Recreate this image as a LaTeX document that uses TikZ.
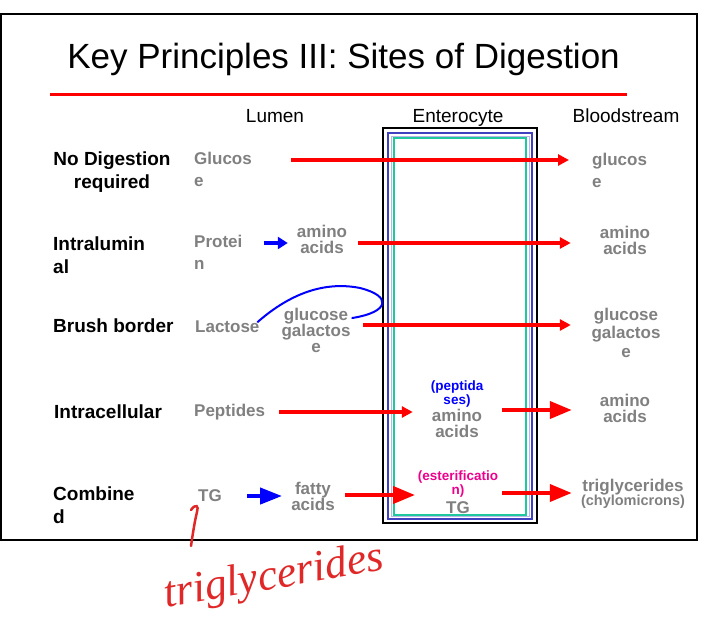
\documentclass[tikz,border=0pt]{standalone}
\usepackage{fontspec}
\setmainfont{Liberation Sans}
\newfontfamily\handfont{Liberation Serif}
\usetikzlibrary{arrows.meta}
\definecolor{nutgray}{HTML}{808080}
\definecolor{cellblue}{HTML}{4040C0}
\definecolor{celllav}{HTML}{B8B8E8}
\definecolor{cellteal}{HTML}{20C8A0}
\definecolor{inkred}{HTML}{E02828}
\tikzset{
  rowlabel/.style={font=\fontsize{19}{23}\selectfont\bfseries, align=left, inner sep=0pt, anchor=base west},
  colhead/.style={font=\fontsize{19}{23}\selectfont, inner sep=0pt, anchor=base},
  nutrient/.style={text=nutgray, font=\fontsize{17}{16}\selectfont\bfseries, align=center, inner sep=0pt, anchor=base},
  nutwide/.style={nutrient, font=\fontsize{17}{22}\selectfont\bfseries, align=left, anchor=base west},
  enzyme/.style={font=\fontsize{13.5}{12}\selectfont\bfseries, align=center, inner sep=0pt, anchor=base},
  flow/.style={draw=red, line width=4pt, -{Triangle[length=11pt,width=11pt]}},
  bigflow/.style={draw=red, line width=4pt, -{Triangle[length=22pt,width=17pt]}},
  split/.style={draw=blue, line width=4pt, -{Triangle[length=10pt,width=12pt]}},
  bigsplit/.style={draw=blue, line width=4pt, -{Triangle[length=22pt,width=16pt]}},
}
\begin{document}
\begin{tikzpicture}[x=1pt,y=-1pt]
\useasboundingbox (0,0) rectangle (727,637);
% slide frame and title
\draw[line width=1.5pt] (0.75,14) rectangle (697,540);
\node[font=\fontsize{35}{40}\selectfont, anchor=base, inner sep=0pt] (title) at (343.5,68) {Key Principles III: Sites of Digestion};
\draw[red, line width=3pt] (50,94) -- (627,94);

% column heads
\node[colhead] (lumen) at (275,122) {Lumen};
\node[colhead] (entero) at (458,122) {Enterocyte};
\node[colhead] (blood) at (626,122) {Bloodstream};

% enterocyte walls (behind the arrows)
\draw[line width=2.5pt] (383,128) rectangle (537,523);
\draw[cellblue, line width=2pt] (388,133) rectangle (532,519);
\draw[celllav, line width=1pt] (391,136) rectangle (529,516);
\draw[cellteal, line width=2pt] (393.5,138) rectangle (526,515);

% row labels (base = last line)
\node[rowlabel, align=center, anchor=base] (nodig) at (112,188) {No Digestion\\required};
\node[rowlabel] (intralum) at (53,273) {Intralumin\\al};
\node[rowlabel] (brush) at (53,332) {Brush border};
\node[rowlabel] (intracell) at (54,418) {Intracellular};
\node[rowlabel] (combined) at (53,523) {Combine\\d};

% lumen
\node[nutwide] (gluL) at (194,186) {Glucos\\e};
\node[nutwide] (proL) at (194,269) {Protei\\n};
\node[nutrient, anchor=base west] (lacL) at (195,332) {Lactose};
\node[nutrient, anchor=base west] (pepL) at (194,416) {Peptides};
\node[nutrient, anchor=base west] (tgL) at (198,501) {TG};
\node[nutrient] (aminoL) at (322,253) {amino\\acids};
\node[nutrient] (gluL2) at (316,352) {glucose\\galactos\\e};
\node[nutrient] (fattyL) at (313,510) {fatty\\acids};

% enterocyte
\node[enzyme, text=blue] (pepase) at (457,404) {(peptida\\ses)};
\node[nutrient] (aminoE) at (457,437) {amino\\acids};
\node[enzyme, text=magenta] (ester) at (458,494) {(esterificatio\\n)};
\node[nutrient] (tgE) at (458,513) {TG};

% bloodstream
\node[nutwide] (gluB) at (592,187) {glucos\\e};
\node[nutrient] (aminoB) at (625,254) {amino\\acids};
\node[nutrient, font=\fontsize{17}{18.5}\selectfont\bfseries] (gluB2) at (626,357) {glucose\\galactos\\e};
\node[nutrient] (aminoB2) at (625,422) {amino\\acids};
\node[nutrient] (trigB) at (633,491) {triglycerides};
\node[nutrient, font=\fontsize{14.5}{15}\selectfont\bfseries] (chyloB) at (633,505) {(chylomicrons)};

% transport
\draw[flow] ([xshift=39pt,yshift=26pt]gluL.base east) -- ([xshift=-23pt,yshift=27pt]gluB.base west);
\draw[split] ([xshift=21pt,yshift=26pt]proL.base east) -- ([xshift=-9pt,yshift=10pt]aminoL.base west);
\draw[flow] ([xshift=11pt,yshift=10pt]aminoL.base east) -- ([xshift=-29pt,yshift=11pt]aminoB.base west);
\draw[flow] ([xshift=12.5pt,yshift=27pt]gluL2.base east) -- ([xshift=-20.5pt,yshift=32pt]gluB2.base west);
\draw[flow] ([xshift=14pt,yshift=4pt]pepL.base east) -- ([xshift=-19pt,yshift=25pt]aminoE.base west);
\draw[bigflow] ([xshift=20pt,yshift=27pt]aminoE.base east) -- ([xshift=-28pt,yshift=12pt]aminoB2.base west);
\draw[bigsplit] ([xshift=25.4pt,yshift=5pt]tgL.base east) -- ([xshift=-9pt,yshift=14pt]fattyL.base west);
\draw[bigflow] ([xshift=10pt,yshift=15pt]fattyL.base east) -- ([xshift=-31pt,yshift=18pt]tgE.base west);
\draw[bigflow] ([xshift=32pt,yshift=20pt]tgE.base east) -- ([xshift=-10.5pt,yshift=-2pt]trigB.base west);

% pen strokes
\draw[blue, line width=2pt, line cap=round] ([xshift=-2pt,yshift=10pt]lacL.base east)
  .. controls (285,298) and (320,280) .. (360,288)
  .. controls (392,296) and (390,312) .. ([xshift=1.5pt,yshift=34pt]gluL2.base east);
\node[text=inkred, font=\handfont\itshape\fontsize{44}{44}\selectfont, rotate=10, anchor=base west, inner sep=0pt] (hand) at (166,608) {triglycerides};
\draw[inkred, line width=2.5pt, line cap=round] (191,546) .. controls (193,532) and (195,520) .. (197,512)
  .. controls (199,506) and (196,503) .. (191,510);
\end{tikzpicture}
\end{document}
